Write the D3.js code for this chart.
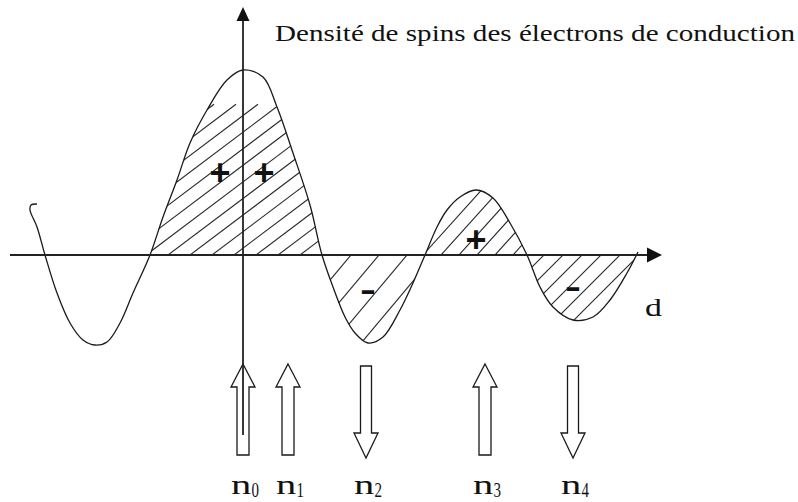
<!DOCTYPE html>
<html>
<head>
<meta charset="utf-8">
<script src="https://cdn.jsdelivr.net/npm/d3@7"></script>
<style>
  html, body { margin: 0; background: #fff; }
  svg { display: block; }
  .serif { font-family: "Liberation Serif", "Times New Roman", Times, serif; }
  .sign { font-family: "Liberation Sans", Arial, Helvetica, sans-serif; font-weight: bold; }
</style>
</head>
<body>
<svg id="chart" width="798" height="502"></svg>
<script>
// Spin density of the conduction electrons vs distance d (arbitrary units)
const curveD = [-20.6, -21.2, -21.3, -20.6, -19.8, -18.6, -17.3, -16.0, -14.8, -13.6, -12.3, -11.0,
  -9.3, -8.0, -6.6, -5.3, -3.6, -1.6, 0, 2.0, 3.4, 5.0, 6.7, 7.9,
  9.0, 10.2, 11.2, 12.5, 14.0, 15.7, 17.0, 18.2,
  19.4, 20.4, 21.7, 23.3, 25.0, 26.7, 28.4,
  29.7, 31.0, 33.0, 35.0, 36.7, 38.4, 39.5];
const curveS = [5.1, 5.0, 4.5, 2.8, 0, -3.8, -6.8, -8.5, -9.0, -8.7, -6.8, -3.8,
  0, 3.8, 7.5, 11.2, 14.5, 17.5, 18.5, 17.8, 14.8, 10.2, 5.0, 0,
  -3.2, -6.2, -7.8, -8.8, -8.2, -5.5, -2.8, 0,
  2.8, 4.5, 5.8, 6.5, 5.7, 3.2, 0,
  -3.2, -5.2, -6.5, -6.2, -4.5, -1.8, 0.3];

// Hatched lobes (between zero crossings)
const lobeStart = [-9.3, 7.9, 18.2, 28.4];
const lobeEnd = [7.9, 18.2, 28.4, 39.5];

// Sign of each lobe
const signText = ["+", "+", "-", "+", "-"];
const signD = [-2.3, 2.1, 12.5, 23.3, 33.0];
const signS = [8.2, 8.2, -3.5, 1.5, -3.2];

// Localised moments n0..n4: position and spin direction (+1 up, -1 down)
const spinIndex = ["0", "1", "2", "3", "4"];
const spinD = [0, 4.5, 12.3, 24.2, 33.0];
const spinDir = [1, 1, -1, 1, -1];

const titleText = "Densité de spins des électrons de conduction";
const axisLabel = "d";

// Axis extents
const axisDMin = -23.3, axisDMax = 41.9;
const axisSMax = 24.8, axisSMin = -18;

// Hatching look per lobe: angle (deg), spacing along the axis (px), phase (px)
const hatchStyle = [
  { angle: 37, gap: 22, phase: 18 },
  { angle: 50, gap: 28, phase: 1 },
  { angle: 48, gap: 18, phase: 16 },
  { angle: 45, gap: 19, phase: 17 }
];

const svg = d3.select("#chart");
const x = d3.scaleLinear().domain([0, 10]).range([243, 343]);
const y = d3.scaleLinear().domain([0, 10]).range([255, 155]);

const pts = curveD.map((d, i) => [d, curveS[i]]);
const curve = d3.curveCatmullRom.alpha(0.5);
const line = d3.line().x(p => x(p[0])).y(p => y(p[1])).curve(curve);
const area = d3.area().x(p => x(p[0])).y0(y(0)).y1(p => y(p[1])).curve(curve);

const defs = svg.append("defs");
defs.append("clipPath").attr("id", "under-curve")
  .append("path").attr("d", area(pts.slice(3)));

const ink = "#1a1a1a";

// Hatching
lobeStart.forEach((s0, i) => {
  const x0 = x(s0), x1 = x(lobeEnd[i]);
  defs.append("clipPath").attr("id", "lobe" + i)
    .append("rect").attr("x", x0).attr("y", 0).attr("width", x1 - x0).attr("height", 502);
  const st = hatchStyle[i];
  const t = Math.tan(st.angle * Math.PI / 180);
  const y0 = y(0);
  const intercepts = [];
  for (let k = -40; k < 80; k++) {
    const xk = x0 + st.phase + k * st.gap;
    if (xk > x0 - 260 && xk < x1 + 260) intercepts.push(xk);
  }
  svg.append("g").attr("clip-path", `url(#lobe${i})`)
    .append("g").attr("clip-path", "url(#under-curve)")
    .selectAll("line").data(intercepts).join("line")
    .attr("x1", xk => xk - 200).attr("y1", y0 + 200 * t)
    .attr("x2", xk => xk + 200).attr("y2", y0 - 200 * t)
    .attr("stroke", "#262626").attr("stroke-width", 1.1);
});

// Density curve
svg.append("path").attr("d", line(pts))
  .attr("fill", "none").attr("stroke", ink).attr("stroke-width", 1.3);

// Spin arrows (hollow block arrows)
function arrowPoints(cx, dir) {
  if (dir > 0) {
    return [[cx, 364], [cx + 12, 387], [cx + 6, 387], [cx + 6, 455],
            [cx - 6, 455], [cx - 6, 387], [cx - 12, 387]];
  }
  return [[cx - 5.5, 366], [cx + 5.5, 366], [cx + 5.5, 433], [cx + 12, 433],
          [cx, 458], [cx - 12, 433], [cx - 5.5, 433]];
}
svg.append("g").selectAll("polygon").data(spinD).join("polygon")
  .attr("points", (d, i) => arrowPoints(x(d), spinDir[i]).map(p => p.join(",")).join(" "))
  .attr("fill", "none").attr("stroke", ink).attr("stroke-width", 1.3)
  .attr("stroke-linejoin", "miter");

// Axes
svg.append("line")
  .attr("x1", x(axisDMin)).attr("y1", y(0)).attr("x2", x(axisDMax) - 12).attr("y2", y(0))
  .attr("stroke", "#222").attr("stroke-width", 2);
svg.append("polygon")
  .attr("points", [[x(axisDMax), y(0)], [x(axisDMax) - 15, y(0) - 7.5], [x(axisDMax) - 15, y(0) + 7.5]].map(p => p.join(",")).join(" "))
  .attr("fill", "#111");
svg.append("line")
  .attr("x1", x(0)).attr("y1", y(axisSMax) + 12).attr("x2", x(0)).attr("y2", y(axisSMin))
  .attr("stroke", "#222").attr("stroke-width", 1.8);
svg.append("polygon")
  .attr("points", [[x(0), y(axisSMax)], [x(0) - 6.5, y(axisSMax) + 14], [x(0) + 6.5, y(axisSMax) + 14]].map(p => p.join(",")).join(" "))
  .attr("fill", "#111");

// Stretched serif text helper
function serifText(px, py, str, size, sx, anchor) {
  return svg.append("text").attr("class", "serif")
    .attr("transform", `translate(${px},${py}) scale(${sx},1)`)
    .attr("font-size", size).attr("fill", "#111")
    .attr("text-anchor", anchor || "start")
    .text(str);
}

// Title and axis label
svg.append("text").attr("class", "serif")
  .attr("x", 275).attr("y", 41)
  .attr("font-size", 23).attr("fill", "#111")
  .attr("textLength", 520).attr("lengthAdjust", "spacingAndGlyphs")
  .text(titleText);
serifText(645, 316, axisLabel, 26, 1.3);

// Signs
signText.forEach((s, i) => {
  const plus = s === "+";
  const fs = plus ? 36 : 32;
  svg.append("text").attr("class", "sign")
    .attr("transform", `translate(${x(signD[i])},${y(signS[i]) + (plus ? 0.34 : 0.3) * fs}) scale(${plus ? 1 : 1.5},1)`)
    .attr("font-size", fs)
    .attr("text-anchor", "middle").attr("fill", "#111")
    .text(s);
});

// Spin labels n0..n4
spinD.forEach((d, i) => {
  const cx = x(d);
  serifText(cx - 12, 494, "n", 28, 1.45);
  serifText(cx + 8.5, 497, spinIndex[i], 20, 0.75);
});
</script>
</body>
</html>
